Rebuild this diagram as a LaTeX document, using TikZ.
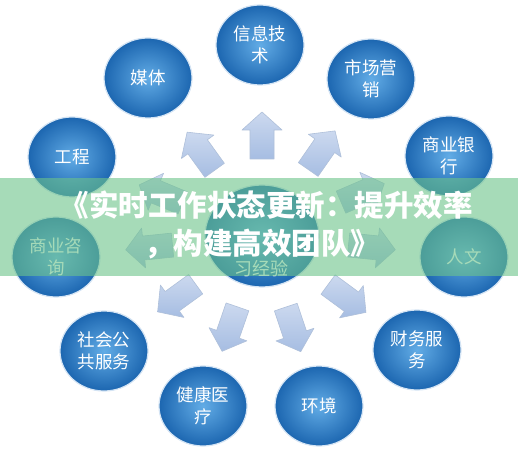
\documentclass[tikz,border=0pt]{standalone}
\usepackage{fontspec}
\newfontfamily\cjk{Noto Sans CJK SC}
\usetikzlibrary{shapes.geometric, positioning}
\definecolor{orblight}{HTML}{62ACE6}
\definecolor{orbdark}{HTML}{1C66B0}
\definecolor{orbrim}{HTML}{D4E4F4}
\definecolor{arrtop}{HTML}{CCD9EF}
\definecolor{arrbot}{HTML}{A6BDE2}
\definecolor{arredge}{HTML}{AFC0DA}
\definecolor{bandgreen}{HTML}{6CC38A}

\begin{document}
\begin{tikzpicture}[x=1pt, y=1pt,
    topic/.style={
      ellipse, draw=orbrim, line width=1.2pt,
      inner color=orblight, outer color=orbdark, text=white,
      font=\cjk\fontsize{17.5}{22}\selectfont,
      minimum width=88pt, minimum height=80pt, inner sep=0pt, align=center
    },
    hub/.style={topic, minimum width=114pt, minimum height=102pt},
    arr/.style={top color=arrtop, bottom color=arrbot, draw=arredge, line width=0.6pt, line join=round},
    band/.style={rectangle, fill=bandgreen, fill opacity=0.6, minimum width=518pt, minimum height=98pt, inner sep=0pt},
    headline/.style={text=white, font=\cjk\bfseries\fontsize{29.5}{34}\selectfont, inner sep=0pt},
  ]
  \useasboundingbox (0,0) rectangle (518,455);
  \fill[white] (0,0) rectangle (518,455);

  % centre and the eleven fields
  \node[hub] (ctr) at (262,219) {};
  \node[text=white, font=\cjk\fontsize{18}{22}\selectfont] (ctrtxt) at (261,186) {习经验};
  \node[topic] (info) at (260,410) {信息技\\术};
  \node[topic] (media) at (148,377) {媒体};
  \node[topic] (market) at (371,376) {市场营\\销};
  \node[topic] (eng) at (72,298) {工程};
  \node[topic] (bank) at (449,299) {商业银\\行};
  \node[topic] (consult) at (56,198) {商业咨\\询};
  \node[topic] (human) at (464,198) {人文};
  \node[topic] (social) at (104,104) {社会公\\共服务};
  \node[topic] (finance) at (417,105) {财务服\\务};
  \node[topic] (health) at (203,49) {健康医\\疗};
  \node[topic] (env) at (319,49) {环境};

  % block arrows pointing outwards
  \foreach \ang/\dst in {90/77, 125.8/81, 55.2/81, 157.4/86, 23.2/86, 185.8/90,
                         -5.9/87, 216/82, -36.3/82, 250.9/75, -71.5/75} {
    \draw[arr, shift={(ctr.center)}, rotate=\ang]
      (\dst,-12) -- (\dst+29,-12) -- (\dst+29,-20) -- (\dst+47,0)
      -- (\dst+29,20) -- (\dst+29,12) -- (\dst,12) -- cycle;
  }

  % title banner
  \node[band] (strip) at (259,228) {};
  \node[headline] (title1) at (266,250) {《实时工作状态更新：提升效率};
  \node[headline] (title2) at (262,211) {，构建高效团队》};
\end{tikzpicture}
\end{document}
